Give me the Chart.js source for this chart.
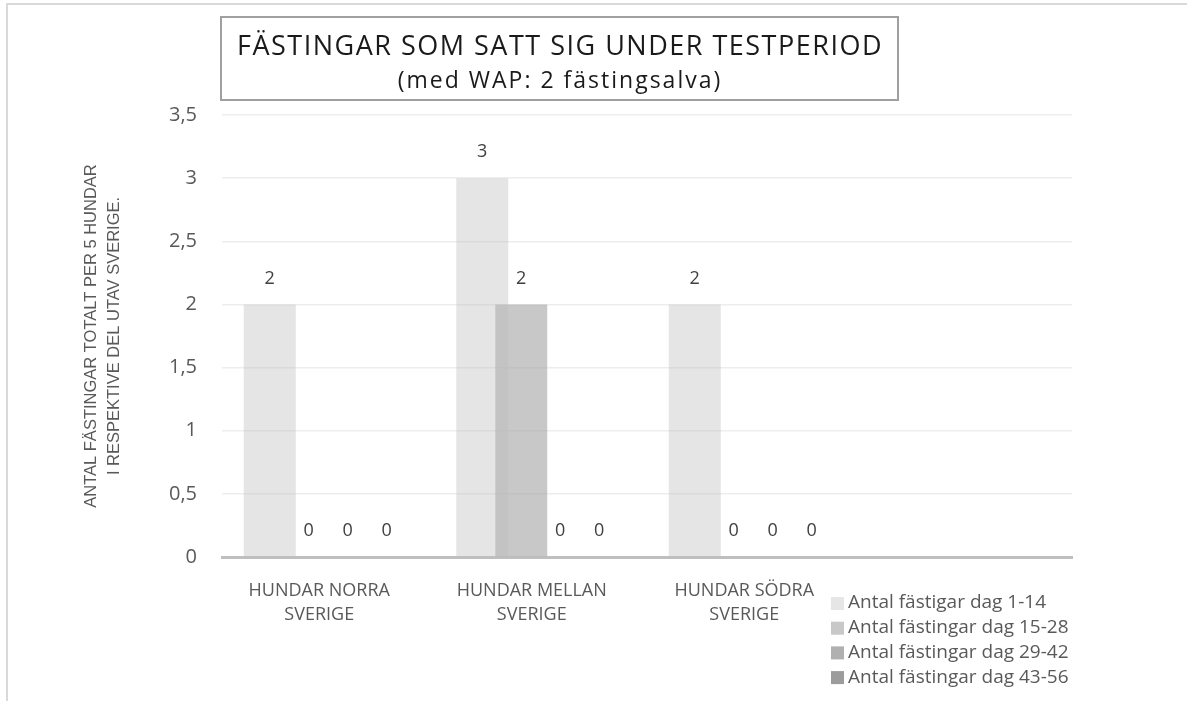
<!DOCTYPE html>
<html>
<head>
<meta charset="utf-8">
<script src="https://cdn.jsdelivr.net/npm/chart.js"></script>
<style>
  body { margin: 0; background: #fff; }
  #wrap { width: 1187px; height: 701px; }
</style>
</head>
<body>
<div id="wrap"><canvas id="chart" width="1187" height="701"></canvas></div>
<script>
// data
const categories = [['HUNDAR NORRA', 'SVERIGE'], ['HUNDAR MELLAN', 'SVERIGE'], ['HUNDAR SÖDRA', 'SVERIGE'], ''];
const seriesNames = ['Antal fästigar dag 1-14', 'Antal fästingar dag 15-28', 'Antal fästingar dag 29-42', 'Antal fästingar dag 43-56'];
const dag1_14 = [2, 3, 2, null];
const dag15_28 = [0, 2, 0, null];
const dag29_42 = [0, 0, 0, null];
const dag43_56 = [0, 0, 0, null];
const yTicks = [0, 0.5, 1, 1.5, 2, 2.5, 3, 3.5];

const fillColors = ['rgba(191,191,191,0.4)', 'rgba(163,163,163,0.6)', 'rgba(120,120,120,0.6)', 'rgba(90,90,90,0.6)'];
const legendColors = ['#e6e6e6', '#c8c8c8', '#b0b0b0', '#9c9c9c'];
const FONT = "'Open Sans', sans-serif";

const seriesData = [dag1_14, dag15_28, dag29_42, dag43_56];

const extras = {
  id: 'extras',
  beforeDraw(chart) {
    const ctx = chart.ctx;
    ctx.save();
    ctx.strokeStyle = '#d9d9d9';
    ctx.lineWidth = 2;
    ctx.beginPath();
    ctx.moveTo(7, 701);
    ctx.lineTo(7, 4);
    ctx.lineTo(1187, 4);
    ctx.stroke();
    ctx.restore();
  },
  afterDraw(chart) {
    const ctx = chart.ctx;
    ctx.save();
    // title box
    ctx.fillStyle = '#fff';
    ctx.fillRect(221, 17, 677, 83);
    ctx.strokeStyle = '#a0a0a0';
    ctx.lineWidth = 2;
    ctx.strokeRect(221, 17, 677, 83);
    ctx.fillStyle = '#1a1a1a';
    ctx.textAlign = 'center';
    ctx.textBaseline = 'middle';
    ctx.font = '27px ' + FONT;
    ctx.letterSpacing = '1.5px';
    ctx.fillText('FÄSTINGAR SOM SATT SIG UNDER TESTPERIOD', 560, 47);
    ctx.font = '23px ' + FONT;
    ctx.letterSpacing = '2px';
    ctx.fillText('(med WAP: 2 fästingsalva)', 560, 81);
    ctx.letterSpacing = '0px';

    // value labels
    ctx.font = '18px ' + FONT;
    ctx.fillStyle = '#404040';
    chart.data.datasets.forEach((ds, i) => {
      const meta = chart.getDatasetMeta(i);
      meta.data.forEach((bar, j) => {
        if (ds.data[j] === null) return;
        ctx.fillText(String(ds.data[j]), bar.x, bar.y - 26);
      });
    });

    // legend
    ctx.textAlign = 'left';
    ctx.font = '19px ' + FONT;
    seriesNames.forEach((name, i) => {
      const y = 603 + i * 24.7;
      ctx.fillStyle = legendColors[i];
      ctx.fillRect(831, y - 6, 13, 13);
      ctx.fillStyle = '#595959';
      ctx.fillText(name, 848, y);
    });
    ctx.restore();
  }
};

new Chart(document.getElementById('chart'), {
  type: 'bar',
  data: {
    labels: categories,
    datasets: seriesNames.map((name, i) => ({
      label: name,
      data: seriesData[i],
      backgroundColor: fillColors[i],
      borderWidth: 0,
      categoryPercentage: 0.734,
      barPercentage: 1.333
    }))
  },
  options: {
    responsive: false,
    animation: false,
    layout: { padding: { top: 115, right: 115, bottom: 0, left: 0 } },
    plugins: {
      legend: { display: false },
      title: { display: false },
      tooltip: { enabled: false }
    },
    scales: {
      x: {
        grid: { display: false },
        border: { color: '#bfbfbf', width: 3 },
        ticks: {
          color: '#595959',
          font: { family: FONT, size: 18, lineHeight: 1.38 },
          padding: 13,
          labelOffset: -9,
          maxRotation: 0,
          autoSkip: false
        },
        afterFit: (scale) => { scale.height = 144; }
      },
      y: {
        min: 0,
        max: 3.5,
        afterBuildTicks: (scale) => { scale.ticks = yTicks.map(v => ({ value: v })); },
        grid: { color: '#ededed', lineWidth: 1.5, drawTicks: false },
        border: { display: false },
        ticks: {
          color: '#595959',
          font: { family: FONT, size: 20 },
          padding: 25,
          callback: (v) => String(v).replace('.', ',')
        },
        title: {
          display: true,
          text: ['ANTAL FÄSTINGAR TOTALT PER 5 HUNDAR', 'I RESPEKTIVE DEL UTAV SVERIGE.'],
          color: '#595959',
          font: { family: "'Liberation Sans Narrow', 'Liberation Sans', sans-serif", size: 16.5, lineHeight: 1.4 },
          padding: { top: 80, bottom: 0 }
        },
        afterFit: (scale) => { scale.width = 222; }
      }
    }
  },
  plugins: [extras]
});
</script>
</body>
</html>
